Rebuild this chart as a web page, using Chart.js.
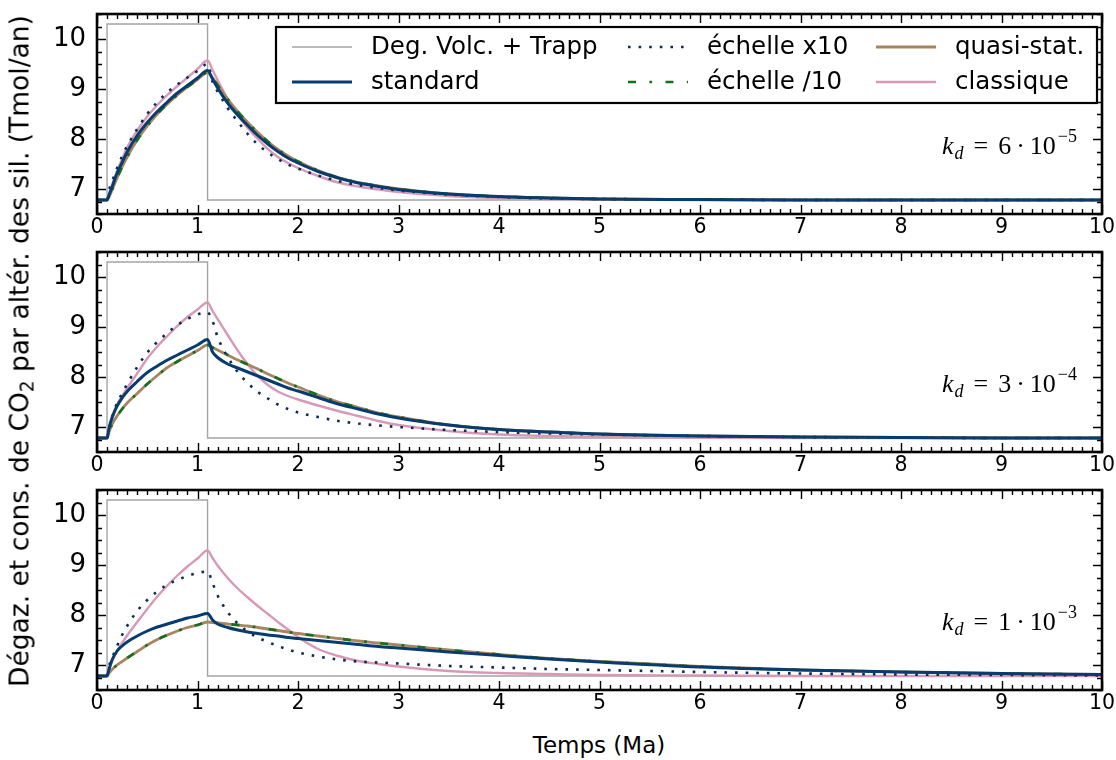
<!DOCTYPE html>
<html>
<head>
<meta charset="utf-8">
<script src="https://cdn.jsdelivr.net/npm/chart.js@4.4.1/dist/chart.umd.min.js"></script>
<style>
  body { margin: 0; background: #fff; }
  #wrap { position: relative; width: 1116px; height: 760px; font-family: "DejaVu Sans", sans-serif; color: #000; }
  #wrap canvas { position: absolute; left: 0; }
  #ylab { position: absolute; left: 19px; top: 351px; transform: translate(-50%, -50%) rotate(-90deg); white-space: nowrap; font-size: 26.5px; }
  #ylab sub { font-size: 70%; vertical-align: -0.25em; line-height: 0; }
  #xlab { position: absolute; left: 599px; top: 745px; transform: translate(-50%, -50%); white-space: nowrap; font-size: 23px; }
</style>
</head>
<body>
<div id="wrap">
  <canvas id="c0" width="1116" height="238" style="top:0px;width:1116px;height:238px"></canvas>
  <canvas id="c1" width="1116" height="238" style="top:238px;width:1116px;height:238px"></canvas>
  <canvas id="c2" width="1116" height="238" style="top:476px;width:1116px;height:238px"></canvas>
  <div id="ylab">Dégaz. et cons. de CO<sub>2</sub> par altér. des sil. (Tmol/an)</div>
  <div id="xlab">Temps (Ma)</div>
</div>
<script>
// time axis (Ma) shared by all model curves
const time = [0, 0.1, 0.12, 0.15, 0.2, 0.25, 0.3, 0.4, 0.5, 0.6, 0.7, 0.8, 0.9, 1.0, 1.1,
  1.15, 1.2, 1.3, 1.4, 1.5, 1.6, 1.7, 1.8, 1.9, 2.0, 2.2, 2.4, 2.6, 2.8, 3.0,
  3.5, 4.0, 4.5, 5, 6, 7, 8, 9, 10];

// degassing (volcanic + trapp)
const volcTime = [0, 0.1, 0.1, 1.1, 1.1, 10];
const volcFlux = [6.78, 6.78, 10.3, 10.3, 6.78, 6.78];

// kd = 6e-5
const standard1 = [6.78, 6.78, 6.88, 7.04, 7.32, 7.53, 7.74, 8.07, 8.33, 8.55, 8.74, 8.92, 9.07, 9.22, 9.37,
  9.2, 9.02, 8.72, 8.48, 8.27, 8.07, 7.9, 7.75, 7.62, 7.52, 7.35, 7.22, 7.12, 7.05, 6.99,
  6.9, 6.85, 6.82, 6.8, 6.79, 6.78, 6.78, 6.78, 6.78];
const x10_1 = [6.78, 6.78, 6.98, 7.15, 7.42, 7.66, 7.86, 8.2, 8.5, 8.74, 8.93, 9.09, 9.23, 9.36, 9.5,
  9.14, 8.95, 8.62, 8.35, 8.1, 7.89, 7.73, 7.6, 7.49, 7.41, 7.27, 7.16, 7.08, 7.02, 6.97,
  6.89, 6.84, 6.81, 6.8, 6.79, 6.78, 6.78, 6.78, 6.78];
const div10_1 = [6.78, 6.78, 6.84, 6.98, 7.22, 7.44, 7.64, 7.98, 8.26, 8.5, 8.7, 8.88, 9.04, 9.19, 9.33,
  9.22, 9.08, 8.8, 8.55, 8.33, 8.13, 7.95, 7.79, 7.66, 7.55, 7.37, 7.23, 7.13, 7.06, 7.0,
  6.9, 6.85, 6.82, 6.8, 6.79, 6.78, 6.78, 6.78, 6.78];
const quasi1 = [6.78, 6.78, 6.84, 6.98, 7.22, 7.44, 7.64, 7.98, 8.26, 8.5, 8.7, 8.88, 9.04, 9.19, 9.33,
  9.22, 9.08, 8.8, 8.55, 8.33, 8.13, 7.95, 7.79, 7.66, 7.55, 7.37, 7.23, 7.13, 7.06, 7.0,
  6.9, 6.85, 6.82, 6.8, 6.79, 6.78, 6.78, 6.78, 6.78];
const classic1 = [6.78, 6.78, 6.9, 7.08, 7.36, 7.6, 7.83, 8.17, 8.45, 8.68, 8.88, 9.06, 9.23, 9.4, 9.57,
  9.38, 9.18, 8.8, 8.48, 8.22, 8.0, 7.8, 7.64, 7.52, 7.42, 7.26, 7.13, 7.05, 6.99, 6.94,
  6.86, 6.82, 6.8, 6.79, 6.78, 6.78, 6.78, 6.78, 6.78];

// kd = 3e-4
const standard2 = [6.78, 6.78, 6.98, 7.19, 7.42, 7.58, 7.71, 7.91, 8.09, 8.22, 8.34, 8.44, 8.54, 8.64, 8.75,
  8.5, 8.39, 8.26, 8.18, 8.1, 8.02, 7.94, 7.86, 7.78, 7.72, 7.59, 7.46, 7.36, 7.26, 7.18,
  7.04, 6.95, 6.9, 6.86, 6.82, 6.8, 6.79, 6.78, 6.78];
const x10_2 = [6.78, 6.78, 6.98, 7.2, 7.48, 7.67, 7.86, 8.2, 8.49, 8.7, 8.88, 9.04, 9.16, 9.25, 9.29,
  9.12, 8.8, 8.4, 8.1, 7.88, 7.7, 7.57, 7.45, 7.36, 7.29, 7.2, 7.12, 7.07, 7.03, 7.0,
  6.94, 6.9, 6.87, 6.85, 6.82, 6.8, 6.79, 6.78, 6.78];
const div10_2 = [6.78, 6.78, 6.9, 7.05, 7.22, 7.36, 7.48, 7.67, 7.86, 8.03, 8.19, 8.31, 8.42, 8.53, 8.64,
  8.59, 8.54, 8.44, 8.34, 8.25, 8.16, 8.06, 7.97, 7.88, 7.8, 7.64, 7.5, 7.39, 7.28, 7.2,
  7.04, 6.95, 6.9, 6.86, 6.82, 6.8, 6.79, 6.78, 6.78];
const quasi2 = [6.78, 6.78, 6.9, 7.05, 7.22, 7.36, 7.48, 7.67, 7.86, 8.03, 8.19, 8.31, 8.42, 8.53, 8.64,
  8.59, 8.54, 8.44, 8.34, 8.25, 8.16, 8.06, 7.97, 7.88, 7.8, 7.64, 7.5, 7.39, 7.28, 7.2,
  7.04, 6.95, 6.9, 6.86, 6.82, 6.8, 6.79, 6.78, 6.78];
const classic2 = [6.78, 6.78, 6.92, 7.15, 7.45, 7.62, 7.78, 8.07, 8.37, 8.61, 8.82, 9.02, 9.2, 9.35, 9.49,
  9.32, 9.16, 8.84, 8.53, 8.25, 8.02, 7.84, 7.71, 7.62, 7.55, 7.43, 7.32, 7.22, 7.12, 7.04,
  6.92, 6.85, 6.82, 6.8, 6.79, 6.78, 6.78, 6.78, 6.78];

// kd = 1e-3
const standard3 = [6.78, 6.78, 6.92, 7.1, 7.28, 7.38, 7.46, 7.58, 7.68, 7.76, 7.82, 7.88, 7.94, 7.98, 8.03,
  7.9, 7.82, 7.75, 7.7, 7.66, 7.63, 7.6, 7.58, 7.55, 7.53, 7.49, 7.45, 7.41, 7.37, 7.34,
  7.26, 7.19, 7.12, 7.06, 6.96, 6.9, 6.86, 6.83, 6.81];
const x10_3 = [6.78, 6.78, 6.98, 7.14, 7.38, 7.6, 7.78, 8.08, 8.3, 8.47, 8.61, 8.7, 8.78, 8.84, 8.87,
  8.64, 8.39, 8.06, 7.83, 7.67, 7.55, 7.46, 7.38, 7.31, 7.25, 7.17, 7.11, 7.07, 7.05, 7.03,
  6.98, 6.95, 6.92, 6.9, 6.86, 6.83, 6.81, 6.8, 6.79];
const div10_3 = [6.78, 6.78, 6.84, 6.91, 7.0, 7.07, 7.14, 7.27, 7.4, 7.51, 7.6, 7.68, 7.75, 7.8, 7.86,
  7.85, 7.84, 7.82, 7.8, 7.78, 7.75, 7.72, 7.69, 7.66, 7.63, 7.58, 7.53, 7.48, 7.44, 7.4,
  7.3, 7.21, 7.13, 7.07, 6.97, 6.9, 6.86, 6.83, 6.81];
const quasi3 = [6.78, 6.78, 6.84, 6.91, 7.0, 7.07, 7.14, 7.27, 7.4, 7.51, 7.6, 7.68, 7.75, 7.8, 7.86,
  7.85, 7.84, 7.82, 7.8, 7.78, 7.75, 7.72, 7.69, 7.66, 7.63, 7.58, 7.53, 7.48, 7.44, 7.4,
  7.3, 7.21, 7.13, 7.07, 6.97, 6.9, 6.86, 6.83, 6.81];
const classic3 = [6.78, 6.78, 6.9, 7.08, 7.28, 7.44, 7.59, 7.86, 8.12, 8.37, 8.59, 8.79, 8.97, 9.13, 9.29,
  9.14, 8.99, 8.74, 8.53, 8.35, 8.18, 8.02, 7.86, 7.71, 7.56, 7.32, 7.18, 7.08, 7.02, 6.97,
  6.88, 6.84, 6.82, 6.8, 6.79, 6.78, 6.78, 6.78, 6.78];

const xTicks = [0, 1, 2, 3, 4, 5, 6, 7, 8, 9, 10];
const yTicks = [7, 8, 9, 10];
const seriesNames = ["Deg. Volc. + Trapp", "standard", "échelle x10", "échelle /10", "quasi-stat.", "classique"];
const kdMantissa = ["6", "3", "1"];
const kdExponent = ["−5", "−4", "−3"];

const panels = [
  { standard: standard1, x10: x10_1, div10: div10_1, quasi: quasi1, classic: classic1 },
  { standard: standard2, x10: x10_2, div10: div10_2, quasi: quasi2, classic: classic2 },
  { standard: standard3, x10: x10_3, div10: div10_3, quasi: quasi3, classic: classic3 },
];

// line styles, same order as seriesNames
const styles = [
  { color: "#a4a4a4", width: 1.4, dash: [], order: 5 },
  { color: "#083c6e", width: 3, dash: [], order: 0 },
  { color: "#0d2b55", width: 2.6, dash: [2.6, 8], order: 1 },
  { color: "#14701c", width: 2.6, dash: [8, 13.4, 2.7, 13.4], order: 2 },
  { color: "#a8855e", width: 2.8, dash: [], order: 3 },
  { color: "#d898b6", width: 2.4, dash: [], order: 4 },
];

Chart.defaults.font.family = "DejaVu Sans";
Chart.defaults.color = "#000";

const toPoints = (xs, ys) => xs.map((t, i) => ({ x: t, y: ys[i] }));

function lineDataset(k, points) {
  const s = styles[k];
  return {
    label: seriesNames[k],
    data: points,
    borderColor: s.color,
    borderWidth: s.width,
    borderDash: s.dash,
    borderCapStyle: "butt",
    pointRadius: 0,
    fill: false,
    order: s.order,
    tension: 0,
    cubicInterpolationMode: k === 0 ? "default" : "monotone",
  };
}

// frame with inward ticks on all four sides, like the matplotlib classic style
const framePlugin = {
  id: "frame",
  afterDatasetsDraw(chart) {
    const { ctx, chartArea: a, scales: { x, y } } = chart;
    ctx.save();
    ctx.strokeStyle = "#000";
    ctx.lineWidth = 1.4;
    ctx.beginPath();
    for (let i = 0; i <= 100; i++) {
      const v = i / 10;
      const px = Math.round(x.getPixelForValue(v)) + 0.5;
      const len = xTicks.includes(v) ? 9 : 5;
      ctx.moveTo(px, a.bottom); ctx.lineTo(px, a.bottom - len);
      ctx.moveTo(px, a.top); ctx.lineTo(px, a.top + len);
    }
    for (let i = 0; i <= 16; i++) {
      const v = 6.5 + i * 0.25;
      const py = Math.round(y.getPixelForValue(v)) + 0.5;
      const len = yTicks.includes(v) ? 9 : 5;
      ctx.moveTo(a.left, py); ctx.lineTo(a.left + len, py);
      ctx.moveTo(a.right, py); ctx.lineTo(a.right - len, py);
    }
    ctx.stroke();
    ctx.lineWidth = 2.6;
    ctx.strokeRect(a.left, a.top, a.right - a.left, a.bottom - a.top);
    ctx.restore();
  },
};

const kdPlugin = {
  id: "kd",
  afterDraw(chart, args, opts) {
    const ctx = chart.ctx;
    const a = chart.chartArea;
    const base = a.top + 140;
    const right = a.right - 25;
    const big = '26px "Liberation Serif"';
    const small = '18px "Liberation Serif"';
    const parts = [
      { t: "k", f: "italic " + big, dy: 0, after: 1 },
      { t: "d", f: "italic " + small, dy: 5, after: 10 },
      { t: "=", f: big, dy: 0, after: 10 },
      { t: opts.mant, f: big, dy: 0, after: 5 },
      { t: "·", f: big, dy: 0, after: 5 },
      { t: "10", f: big, dy: 0, after: 2 },
      { t: opts.exp, f: small, dy: -12, after: 0 },
    ];
    ctx.save();
    ctx.fillStyle = "#000";
    ctx.textBaseline = "alphabetic";
    let total = 0;
    parts.forEach(p => { ctx.font = p.f; p.w = ctx.measureText(p.t).width; total += p.w + p.after; });
    let cx = right - total;
    parts.forEach(p => { ctx.font = p.f; ctx.fillText(p.t, cx, base + p.dy); cx += p.w + p.after; });
    ctx.restore();
  },
};

const legendPlugin = {
  id: "legendBox",
  afterDraw(chart, args, opts) {
    if (!opts.show) return;
    const ctx = chart.ctx;
    const box = { x: 276, y: 27, w: 821, h: 76 };
    const cols = [292, 628, 876];
    const rows = [47, 82];
    ctx.save();
    ctx.fillStyle = "#fff";
    ctx.fillRect(box.x, box.y, box.w, box.h);
    ctx.strokeStyle = "#000";
    ctx.lineWidth = 2.2;
    ctx.strokeRect(box.x, box.y, box.w, box.h);
    ctx.font = '24.5px "DejaVu Sans"';
    ctx.textBaseline = "middle";
    seriesNames.forEach((name, k) => {
      const s = styles[k];
      const x0 = cols[Math.floor(k / 2)];
      const yc = rows[k % 2];
      ctx.strokeStyle = s.color;
      ctx.lineWidth = s.width;
      ctx.lineCap = "butt";
      ctx.setLineDash(s.dash);
      ctx.beginPath();
      ctx.moveTo(x0, yc); ctx.lineTo(x0 + 60, yc);
      ctx.stroke();
      ctx.setLineDash([]);
      ctx.fillStyle = "#000";
      ctx.fillText(name, x0 + 79, yc + 1);
    });
    ctx.restore();
  },
};

function makeChart(id, p) {
  const d = panels[p];
  const datasets = [
    lineDataset(0, toPoints(volcTime, volcFlux)),
    lineDataset(1, toPoints(time, d.standard)),
    lineDataset(2, toPoints(time, d.x10)),
    lineDataset(3, toPoints(time, d.div10)),
    lineDataset(4, toPoints(time, d.quasi)),
    lineDataset(5, toPoints(time, d.classic)),
  ];
  return new Chart(document.getElementById(id), {
    type: "line",
    data: { datasets },
    options: {
      responsive: false,
      animation: false,
      devicePixelRatio: 1,
      layout: { padding: { top: 14, right: 14, left: 0, bottom: 0 } },
      plugins: {
        legend: { display: false },
        tooltip: { enabled: false },
        legendBox: { show: p === 0 },
        kd: { mant: kdMantissa[p], exp: kdExponent[p] },
      },
      scales: {
        x: {
          type: "linear",
          min: 0,
          max: 10,
          grid: { display: false, drawTicks: false },
          border: { display: false },
          ticks: { font: { size: 20.5 }, color: "#000", padding: 1, autoSkip: false, maxRotation: 0 },
          afterBuildTicks: s => { s.ticks = xTicks.map(v => ({ value: v })); },
          afterFit: s => { s.height = 24; s.paddingLeft = 0; s.paddingRight = 0; },
        },
        y: {
          type: "linear",
          min: 6.5,
          max: 10.5,
          grid: { display: false, drawTicks: false },
          border: { display: false },
          ticks: { font: { size: 26 }, color: "#000", padding: 11 },
          afterBuildTicks: s => { s.ticks = yTicks.map(v => ({ value: v })); },
          afterFit: s => { s.width = 97; s.paddingTop = 0; s.paddingBottom = 0; },
        },
      },
    },
    plugins: [framePlugin, kdPlugin, legendPlugin],
  });
}

makeChart("c0", 0);
makeChart("c1", 1);
makeChart("c2", 2);
</script>
</body>
</html>
